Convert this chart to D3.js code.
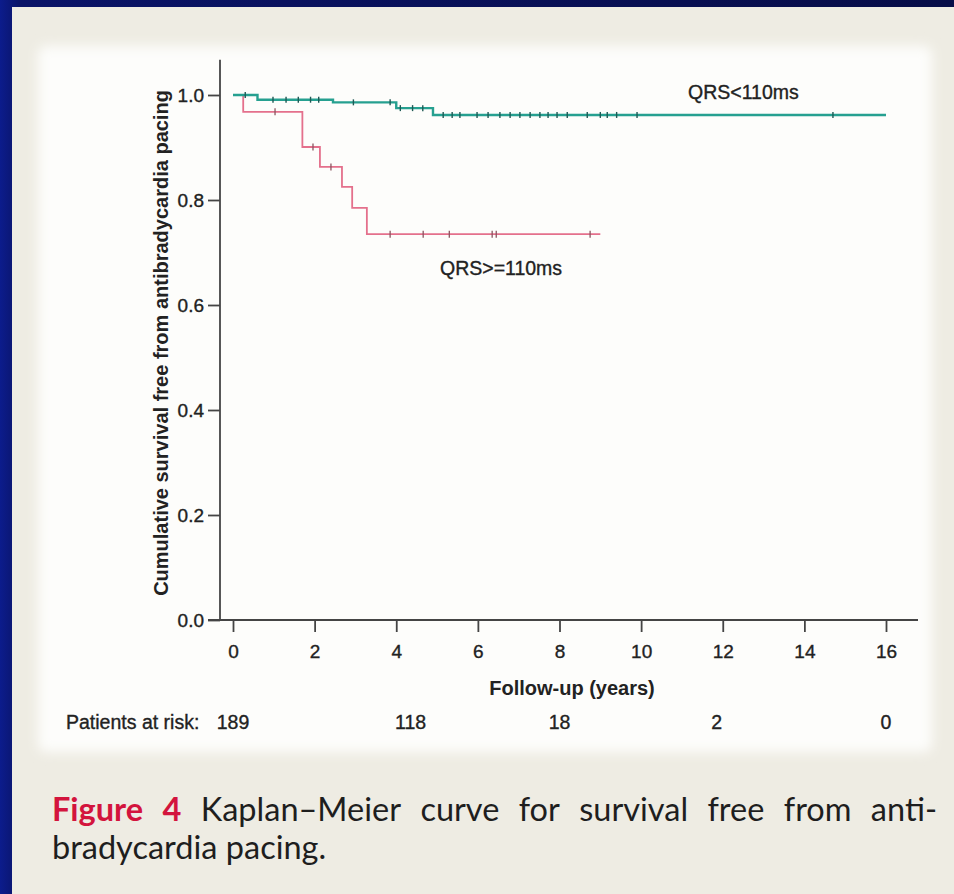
<!DOCTYPE html>
<html><head><meta charset="utf-8">
<script src="https://cdn.jsdelivr.net/npm/d3@7/dist/d3.min.js"></script>
<style>body{margin:0;background:#0a1058;} svg{display:block;}</style>
</head><body>
<svg id="c" width="954" height="894"></svg>
<script>
const xTicks = [0, 2, 4, 6, 8, 10, 12, 14, 16];
const yTicks = [0.0, 0.2, 0.4, 0.6, 0.8, 1.0];
const greenTimes = [0, 0.6, 2.45, 4.0, 4.9];
const greenSurv = [1.0, 0.991, 0.986, 0.975, 0.962];
const greenEnd = 16;
const greenCensor = [0.3, 0.98, 1.3, 1.6, 1.9, 2.1, 2.95, 3.85, 4.1, 4.4, 4.65, 5.15, 5.37, 5.56, 5.98, 6.25, 6.54, 6.79, 7.03, 7.28, 7.52, 7.72, 7.94, 8.19, 8.68, 9.0, 9.17, 9.4, 9.9, 14.7];
const redTimes = [0, 0.25, 1.7, 2.13, 2.67, 2.92, 3.28];
const redSurv = [1.0, 0.968, 0.901, 0.863, 0.825, 0.785, 0.735];
const redEnd = 9.0;
const redCensor = [1.03, 1.96, 2.4, 3.85, 4.66, 5.3, 6.35, 6.45, 8.75];
const riskTimes = [0, 4.35, 8, 11.85, 16];
const riskCounts = [189, 118, 18, 2, 0];
const seriesLabels = ["QRS<110ms", "QRS>=110ms"];

const svg = d3.select("#c");
const defs = svg.append("defs");
const bg = defs.append("linearGradient").attr("id","bg").attr("x1",0).attr("x2",1).attr("y1",0).attr("y2",0);
bg.append("stop").attr("offset","0").attr("stop-color","#0c1c8c");
bg.append("stop").attr("offset","0.02").attr("stop-color","#0a1468");
bg.append("stop").attr("offset","1").attr("stop-color","#070d48");
svg.append("rect").attr("width",954).attr("height",894).attr("fill","url(#bg)");
svg.append("rect").attr("x",12).attr("y",7).attr("width",942).attr("height",887).attr("fill","#eeece3");
const fl = defs.append("filter").attr("id","blur").attr("x","-5%").attr("y","-5%").attr("width","110%").attr("height","110%");
fl.append("feGaussianBlur").attr("stdDeviation",6);
svg.append("rect").attr("x",38).attr("y",46).attr("width",894).attr("height",706).attr("rx",8).attr("fill","#fdfdfb").attr("filter","url(#blur)");

const x = d3.scaleLinear().domain([0,16]).range([233,886]);
const y = d3.scaleLinear().domain([0,1]).range([620,95]);
const axX = 220;
const ink = "#222";
const FF = "Liberation Sans, Arial, sans-serif";

const g = svg.append("g").attr("font-family",FF);
// y axis
g.append("line").attr("x1",axX).attr("x2",axX).attr("y1",y(1.067)).attr("y2",y(0)).attr("stroke","#444").attr("stroke-width",1.8);
const yAxis = d3.axisLeft(y).tickValues(yTicks).tickFormat(d3.format(".1f")).tickSize(12).tickPadding(4);
const ya = g.append("g").attr("transform",`translate(${axX},0)`).call(yAxis);
ya.select(".domain").remove();
ya.selectAll("line").attr("stroke","#444").attr("stroke-width",1.8);
ya.selectAll("text").attr("font-size",19).attr("fill",ink).attr("font-family",FF).attr("stroke",ink).attr("stroke-width",0.35);
// x axis
g.append("line").attr("x1",208).attr("x2",918).attr("y1",y(0)).attr("y2",y(0)).attr("stroke","#444").attr("stroke-width",1.8);
const xAxis = d3.axisBottom(x).tickValues(xTicks).tickFormat(d3.format("d")).tickSize(12).tickPadding(13);
const xa = g.append("g").attr("transform",`translate(0,${y(0)})`).call(xAxis);
xa.select(".domain").remove();
xa.selectAll("line").attr("stroke","#444").attr("stroke-width",1.8);
xa.selectAll("text").attr("font-size",19).attr("fill",ink).attr("font-family",FF).attr("stroke",ink).attr("stroke-width",0.35);

// titles
g.append("text").attr("transform",`translate(168,343) rotate(-90)`).attr("text-anchor","middle")
 .attr("font-size",20).attr("font-weight","bold").attr("fill",ink)
 .text("Cumulative survival free from antibradycardia pacing");
g.append("text").attr("x",572).attr("y",695).attr("text-anchor","middle").attr("font-size",20).attr("font-weight","bold").attr("fill",ink).text("Follow-up (years)");
g.append("text").attr("x",66).attr("y",729).attr("font-size",19.5).attr("fill",ink).attr("stroke",ink).attr("stroke-width",0.35).text("Patients at risk:");
g.selectAll(".risk").data(riskCounts).join("text").attr("class","risk")
 .attr("x",(d,i)=>x(riskTimes[i])).attr("y",729).attr("text-anchor","middle").attr("font-size",19.5).attr("fill",ink).attr("stroke",ink).attr("stroke-width",0.35).text(d=>d);

function stepPath(times, surv, end){
  const pts = [];
  times.forEach((t,i)=>{
    if(i>0) pts.push([t, surv[i-1]]);
    pts.push([t, surv[i]]);
  });
  pts.push([end, surv[surv.length-1]]);
  return d3.line().x(d=>x(d[0])).y(d=>y(d[1]))(pts);
}
function survAt(times, surv, t){
  let v = surv[0];
  times.forEach((tt,i)=>{ if(tt<=t) v = surv[i]; });
  return v;
}
// red
g.append("path").attr("d",stepPath(redTimes,redSurv,redEnd)).attr("fill","none").attr("stroke","#e4708c").attr("stroke-width",1.8);
g.selectAll(".rc").data(redCensor).join("line").attr("class","rc")
 .attr("x1",d=>x(d)).attr("x2",d=>x(d)).attr("y1",d=>y(survAt(redTimes,redSurv,d))-3.5).attr("y2",d=>y(survAt(redTimes,redSurv,d))+3.5)
 .attr("stroke","#8a5560").attr("stroke-width",1.3);
// green
g.append("path").attr("d",stepPath(greenTimes,greenSurv,greenEnd)).attr("fill","none").attr("stroke","#26a090").attr("stroke-width",2.4);
g.selectAll(".gc").data(greenCensor).join("line").attr("class","gc")
 .attr("x1",d=>x(d)).attr("x2",d=>x(d)).attr("y1",d=>y(survAt(greenTimes,greenSurv,d))-3).attr("y2",d=>y(survAt(greenTimes,greenSurv,d))+3)
 .attr("stroke","#1f5a55").attr("stroke-width",1.4);

g.append("text").attr("x",688).attr("y",99).attr("font-size",19.5).attr("fill",ink).attr("stroke",ink).attr("stroke-width",0.35).text(seriesLabels[0]);
g.append("text").attr("x",440).attr("y",275).attr("font-size",19.5).attr("fill",ink).attr("stroke",ink).attr("stroke-width",0.35).text(seriesLabels[1]);

// caption
const cap = svg.append("g").attr("font-family","Lato, 'Open Sans', sans-serif").attr("font-size",32.5).attr("fill","#1e1e1e");
const words1 = [["Figure",true],["4",true],["Kaplan–Meier",false],["curve",false],["for",false],["survival",false],["free",false],["from",false],["anti-",false]];
const wEls = words1.map(([w,b])=>cap.append("text").attr("y",821).attr("font-weight",b?"bold":"normal").attr("fill",b?"#d3143d":"#1e1e1e").text(w));
const widths = wEls.map(e=>e.node().getComputedTextLength());
const total = widths.reduce((a,b)=>a+b,0);
const gap = (937-52-total)/(words1.length-1);
let cx = 52;
wEls.forEach((e,i)=>{ e.attr("x",cx); cx += widths[i]+gap; });
cap.append("text").attr("x",52).attr("y",859).text("bradycardia pacing.");
</script>
</body></html>
